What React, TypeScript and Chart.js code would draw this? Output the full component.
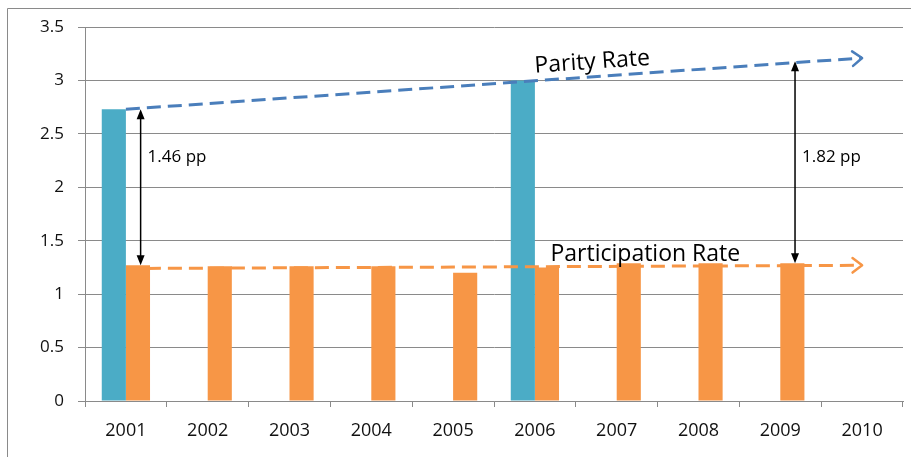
import React, { useEffect, useRef } from 'react';
import { Chart, registerables } from 'chart.js';

Chart.register(...registerables);

const categories = ['2001', '2002', '2003', '2004', '2005', '2006', '2007', '2008', '2009', '2010'];
const parityBars = [2.73, null, null, null, null, 3.0, null, null, null, null];
const participationBars = [1.27, 1.26, 1.26, 1.26, 1.2, 1.25, 1.29, 1.29, 1.29, null];
const parityTrend = [2.73, null, null, null, null, null, null, null, null, 3.21];
const participationTrend = [1.24, null, null, null, null, null, null, null, null, 1.27];
const yMin = 0;
const yMax = 3.5;
const yStep = 0.5;

const gapYears = ['2001', '2009'];
const gapFrom = [1.27, 1.29];
const gapTo = [2.73, 3.18];
const gapLabels = ['1.46 pp', '1.82 pp'];
const gapLabelValues = [2.28, 2.28];

const seriesLabels = ['Parity Rate', 'Participation Rate'];
const seriesLabelIndex = [5.7, 6.35];
const seriesLabelValues = [3.17, 1.375];

const FONT = '"Open Sans"';

const annotationPlugin = {
  id: 'annotations',
  beforeDraw(chart: any) {
    const ctx = chart.ctx;
    ctx.save();
    ctx.strokeStyle = '#8a8a8a';
    ctx.lineWidth = 1;
    ctx.beginPath();
    ctx.moveTo(7.5, chart.height);
    ctx.lineTo(7.5, 8.5);
    ctx.lineTo(chart.width, 8.5);
    ctx.stroke();
    ctx.restore();
  },
  afterDatasetsDraw(chart: any) {
    const ctx = chart.ctx;
    const xs = chart.scales.x;
    const ys = chart.scales.y;
    const catW = xs.width / categories.length;

    // chevrons at the end of trend lines
    [2, 3].forEach((di) => {
      const meta = chart.getDatasetMeta(di);
      const pts = meta.data.filter((p: any) => !p.skip && p.y != null && !isNaN(p.y));
      const first = pts[0];
      const last = pts[pts.length - 1];
      if (!first || !last) return;
      const ang = Math.atan2(last.y - first.y, last.x - first.x);
      const ds = chart.data.datasets[di];
      ctx.save();
      ctx.strokeStyle = ds.borderColor;
      ctx.lineWidth = 2.5;
      ctx.lineCap = 'round';
      ctx.lineJoin = 'round';
      const L = 12;
      const spread = 0.65;
      ctx.beginPath();
      ctx.moveTo(last.x - L * Math.cos(ang - spread), last.y - L * Math.sin(ang - spread));
      ctx.lineTo(last.x, last.y);
      ctx.lineTo(last.x - L * Math.cos(ang + spread), last.y - L * Math.sin(ang + spread));
      ctx.stroke();
      ctx.restore();
    });

    // gap arrows
    const tri = (x: number, y: number, dir: number) => {
      ctx.beginPath();
      ctx.moveTo(x, y);
      ctx.lineTo(x - 4, y - dir * 10);
      ctx.lineTo(x + 4, y - dir * 10);
      ctx.closePath();
      ctx.fill();
    };
    gapYears.forEach((yr, i) => {
      const x = xs.getPixelForValue(categories.indexOf(yr)) + catW * 0.18;
      const y1 = ys.getPixelForValue(gapFrom[i]);
      const y2 = ys.getPixelForValue(gapTo[i]);
      ctx.save();
      ctx.strokeStyle = '#000';
      ctx.fillStyle = '#000';
      ctx.lineWidth = 1.5;
      ctx.beginPath();
      ctx.moveTo(x, y1 - 8);
      ctx.lineTo(x, y2 + 8);
      ctx.stroke();
      tri(x, y1, 1);
      tri(x, y2, -1);
      ctx.font = `17px ${FONT}`;
      ctx.fillStyle = '#000';
      ctx.textAlign = 'left';
      ctx.textBaseline = 'middle';
      ctx.fillText(gapLabels[i], x + 7, ys.getPixelForValue(gapLabelValues[i]));
      ctx.restore();
    });

    // series labels
    const pMeta = chart.getDatasetMeta(2).data;
    const slope = Math.atan2(pMeta[9].y - pMeta[0].y, pMeta[9].x - pMeta[0].x);
    seriesLabels.forEach((t, i) => {
      const x = xs.left + catW * (seriesLabelIndex[i] + 0.5);
      const y = ys.getPixelForValue(seriesLabelValues[i]);
      ctx.save();
      ctx.translate(x, y);
      if (i === 0) ctx.rotate(slope);
      ctx.font = `23px ${FONT}`;
      ctx.fillStyle = '#000';
      ctx.textAlign = 'center';
      ctx.textBaseline = 'middle';
      ctx.fillText(t, 0, 0);
      ctx.restore();
    });
  },
};

export default function App() {
  const ref = useRef<HTMLCanvasElement>(null);
  useEffect(() => {
    if (!ref.current) return;
    const chart = new Chart(ref.current, {
      type: 'bar',
      data: {
        labels: categories,
        datasets: [
          {
            type: 'bar',
            data: parityBars,
            backgroundColor: '#4BACC6',
            categoryPercentage: 0.59,
            barPercentage: 1,
            order: 2,
          },
          {
            type: 'bar',
            data: participationBars,
            backgroundColor: '#F79646',
            categoryPercentage: 0.59,
            barPercentage: 1,
            order: 2,
          },
          {
            type: 'line',
            data: parityTrend,
            borderColor: '#4A7EBB',
            borderWidth: 3,
            borderDash: [14, 7],
            pointRadius: 0,
            spanGaps: true,
            order: 1,
          },
          {
            type: 'line',
            data: participationTrend,
            borderColor: '#F79646',
            borderWidth: 3,
            borderDash: [14, 7],
            pointRadius: 0,
            spanGaps: true,
            order: 1,
          },
        ] as any,
      },
      options: {
        animation: false,
        responsive: false,
        layout: { padding: { left: 0, right: 8, top: 27, bottom: 0 } },
        plugins: { legend: { display: false }, tooltip: { enabled: false } },
        scales: {
          x: {
            grid: { drawOnChartArea: false, drawTicks: true, tickLength: 6, color: '#8a8a8a', offset: true },
            border: { color: '#8a8a8a' },
            ticks: { font: { family: FONT, size: 18 }, color: '#111', padding: 13, maxRotation: 0 },
            afterFit: (s: any) => {
              s.height = 56;
            },
          },
          y: {
            min: yMin,
            max: yMax,
            grid: { color: '#8a8a8a', tickLength: 7 },
            border: { color: '#8a8a8a' },
            ticks: {
              stepSize: yStep,
              font: { family: FONT, size: 17 },
              color: '#111',
              padding: 14,
              callback: (v: any) => String(Number(v)),
            },
            afterFit: (s: any) => {
              s.width = 85;
            },
          },
        },
      },
      plugins: [annotationPlugin],
    });
    return () => chart.destroy();
  }, []);
  return (
    <div style={{ position: 'absolute', left: 0, top: 0, width: 911, height: 457, background: '#fff' }}>
      <canvas ref={ref} width={911} height={457} style={{ display: 'block' }} />
    </div>
  );
}
